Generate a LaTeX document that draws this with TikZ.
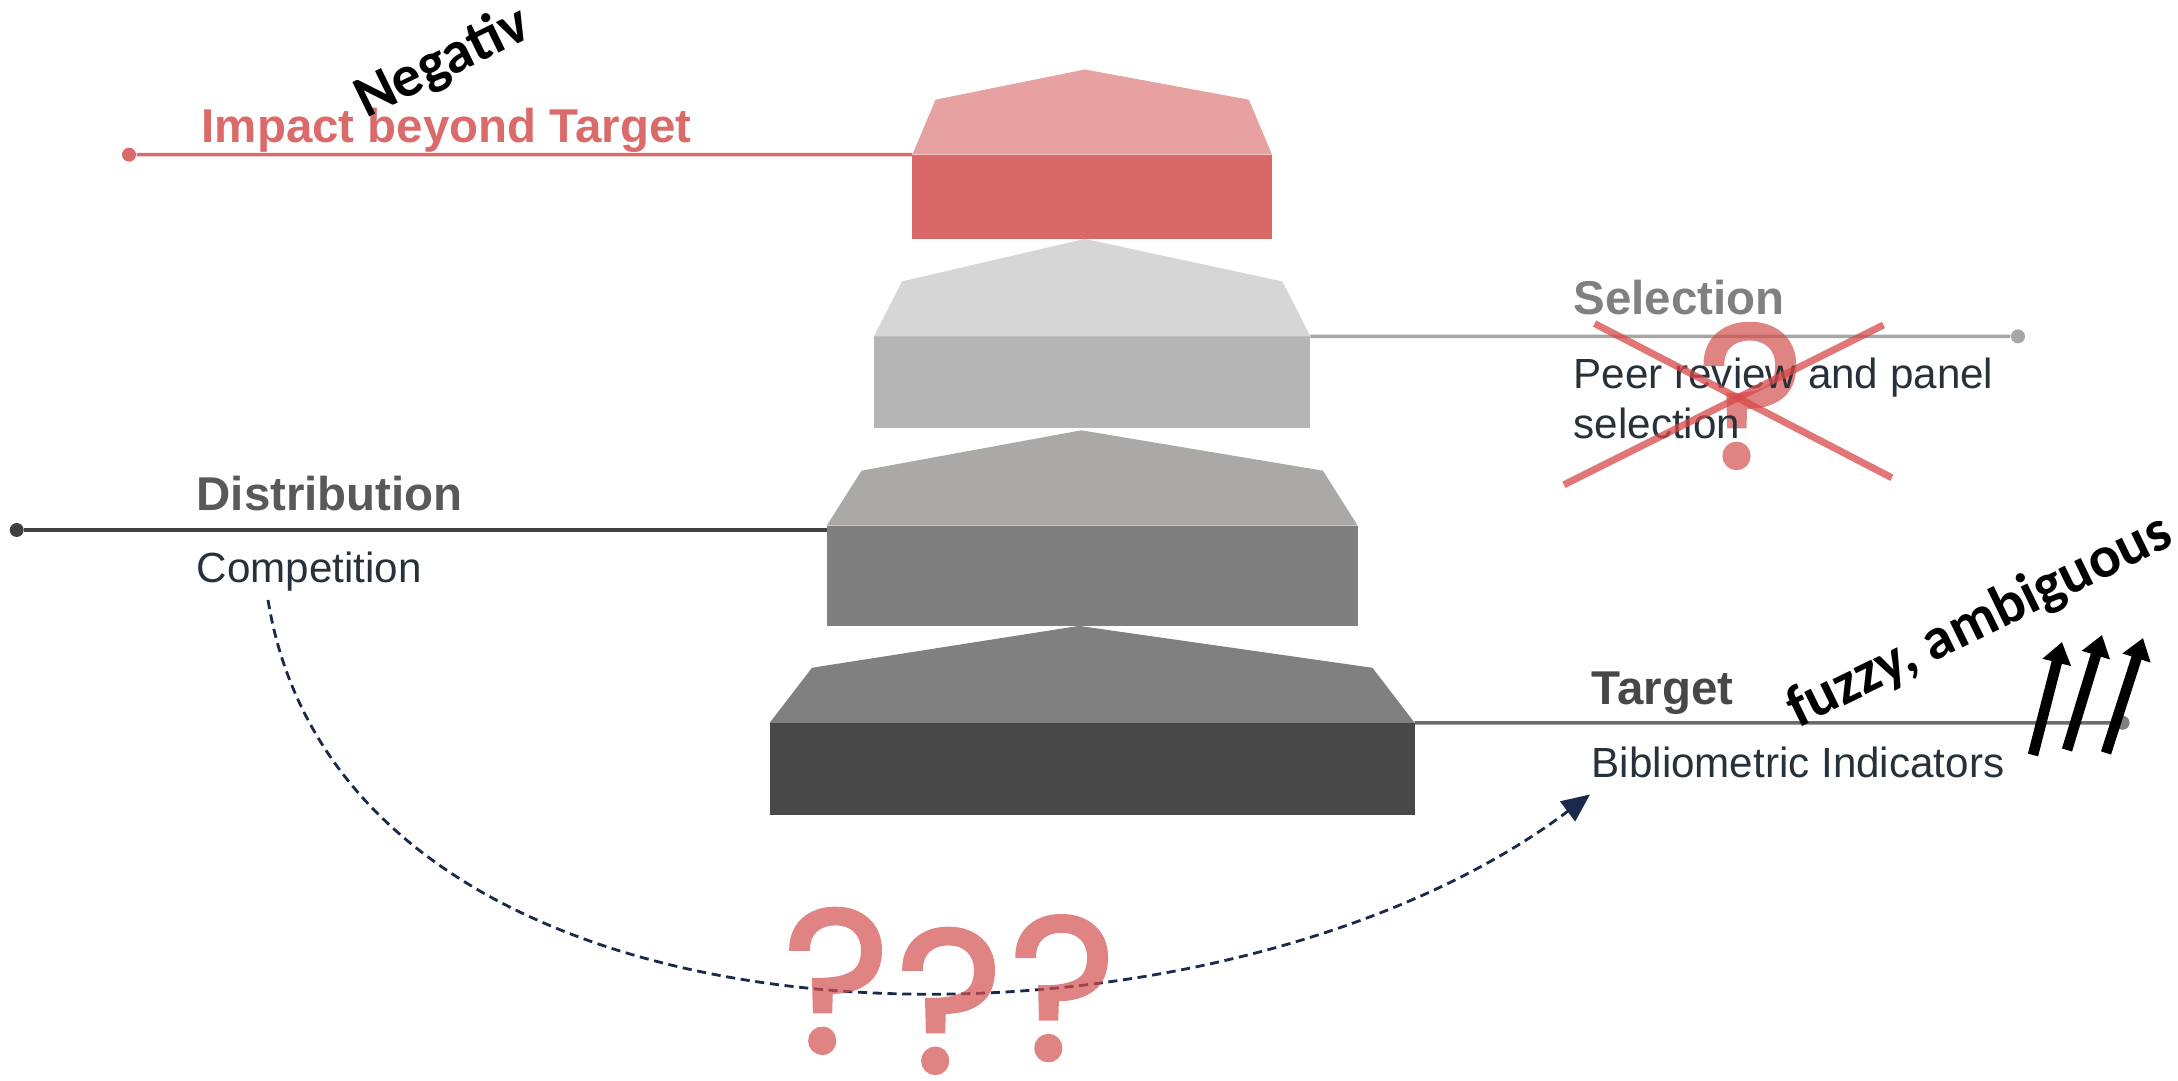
\documentclass[tikz,border=0pt]{standalone}
\usepackage{fontspec}
\setmainfont{Liberation Sans}
\newfontfamily\handfont{Carlito}
\newfontfamily\qfont{Poppins}[FakeBold=1.6]
\usetikzlibrary{arrows.meta,calc}
\definecolor{redroof}{HTML}{E8A1A1}
\definecolor{redbox}{HTML}{D96969}
\definecolor{redline}{HTML}{DB6B6B}
\definecolor{lgroof}{HTML}{D6D6D6}
\definecolor{lgbox}{HTML}{B5B5B5}
\definecolor{selline}{HTML}{A6A6A6}
\definecolor{mgroof}{HTML}{AAA9A7}
\definecolor{mgbox}{HTML}{7F7F7F}
\definecolor{dkroof}{HTML}{808080}
\definecolor{dkbox}{HTML}{484848}
\definecolor{distline}{HTML}{404040}
\definecolor{targetline}{HTML}{6B6B6B}
\definecolor{selhead}{HTML}{808080}
\definecolor{disthead}{HTML}{595959}
\definecolor{targethead}{HTML}{474747}
\definecolor{bodytext}{HTML}{27313A}
\definecolor{navy}{HTML}{1B2A4A}
\definecolor{qred}{HTML}{D34F4F}
\definecolor{crossred}{HTML}{D84848}

\begin{document}
\begin{tikzpicture}[
  tier/.style={rectangle,inner sep=0,outer sep=0},
  head/.style={anchor=base west,inner sep=0,font=\fontsize{13.5}{16}\selectfont\bfseries},
  body/.style={anchor=base west,inner sep=0,align=left,text=bodytext,font=\fontsize{12}{14.2}\selectfont},
  lead/.style={line width=1pt},
  enddot/.style={circle,inner sep=0,minimum size=0.14cm},
  qmark/.style={inner sep=0,text=qred,font=\qfont\fontsize{58}{58}\selectfont},
  qgroup/.style={transparency group,opacity=0.7},
  note/.style={rotate=26,inner sep=0,font=\handfont\bfseries\fontsize{16.8}{17}\selectfont},
  fatarrow/.style={-{Triangle[length=6pt,width=8pt]},line width=3pt},
  dashcurve/.style={draw=navy,line width=0.8pt,dash pattern=on 2.6pt off 1.6pt,-{Triangle[length=8pt,width=7pt]}},
  crossout/.style={draw=crossred,line width=2pt,opacity=0.75}
]
\useasboundingbox (0,0) rectangle (21.78,-10.81);
% the four tiers
\foreach \name/\cy/\w/\h/\boxcol/\roofcol/\ins/\px/\py in {
  impactbox/-1.968/3.597/0.842/redbox/redroof/0.232/10.848/-0.695,
  selbox/-3.821/4.365/0.914/lgbox/lgroof/0.281/10.848/-2.389,
  distbox/-5.758/5.310/1.002/mgbox/mgroof/0.348/10.813/-4.303,
  targetbox/-7.688/6.449/0.920/dkbox/dkroof/0.422/10.790/-6.259} {
  \node[tier,fill=\boxcol,minimum width=\w cm,minimum height=\h cm] (\name) at (10.922,\cy) {};
  \fill[\roofcol] (\name.north west) -- ++(\ins,0.55) -- (\px,\py)
    -- ($(\name.north east)+(-\ins,0.55)$) -- (\name.north east) -- cycle;
}
% leader lines
\node[enddot,fill=redline] (impactdot) at (1.29,-1.547) {};
\draw[lead,draw=redline] (impactdot) -- (impactbox.north west);
\node[enddot,fill=selline] (seldot) at (20.18,-3.364) {};
\draw[lead,draw=selline] (selbox.north east) -- (seldot);
\node[enddot,fill=distline] (distdot) at (0.167,-5.30) {};
\draw[lead,draw=distline] (distdot) -- (distdot -| distbox.west);
\node[enddot,fill=mgbox] (targetdot) at (21.226,-7.228) {};
\draw[lead,draw=targetline] (targetbox.north east) -- (targetdot);
% labels
\node[head,text=redline] (impacthead) at (2.01,-1.43) {Impact beyond Target};
\node[note] (negnote) at (4.43,-0.63) {Negativ};
\begin{scope}[qgroup]
  \node[qmark] (selq) at (17.51,-3.96) {?};
\end{scope}
\node[head,text=selhead] (selhead) at (15.73,-3.15) {Selection};
\node[body] (selbody) at (15.73,-4.383) {Peer review and panel\\selection};
\node[head,text=disthead] (disthead) at (1.96,-5.11) {Distribution};
\node[body] (distbody) at (1.96,-5.83) {Competition};
\node[head,text=targethead] (targethead) at (15.91,-7.05) {Target};
\node[body] (targetbody) at (15.91,-7.78) {Bibliometric Indicators};
\node[note] (fuzzynote) at (19.80,-6.22) {fuzzy, ambiguous};
% dashed link
\coordinate (curvestart) at (2.68,-6.0);
\coordinate (curveend) at (15.90,-7.945);
\draw[dashcurve] (curvestart) .. controls (3.47,-10.83) and (12.08,-10.83) .. (curveend);
\begin{scope}[qgroup]
\foreach \n/\x/\y in {qa/8.367/-9.809,qb/9.497/-10.009,qc/10.628/-9.882}
  \node[qmark] (\n) at (\x,\y) {?};
\end{scope}
% cross over selection
\coordinate (xa1) at (15.946,-3.236);
\coordinate (xa2) at (18.918,-4.778);
\coordinate (xb1) at (15.64,-4.848);
\coordinate (xb2) at (18.835,-3.25);
\draw[crossout] (xa1) -- (xa2);
\draw[crossout] (xb1) -- (xb2);
% arrows
\foreach \i/\xa/\ya/\xb/\yb in {1/20.33/-7.55/20.62/-6.42,2/20.67/-7.50/21.02/-6.35,3/21.06/-7.53/21.43/-6.38} {
  \coordinate (up\i a) at (\xa,\ya);
  \coordinate (up\i b) at (\xb,\yb);
  \draw[fatarrow] (up\i a) -- (up\i b);
}
\end{tikzpicture}
\end{document}
